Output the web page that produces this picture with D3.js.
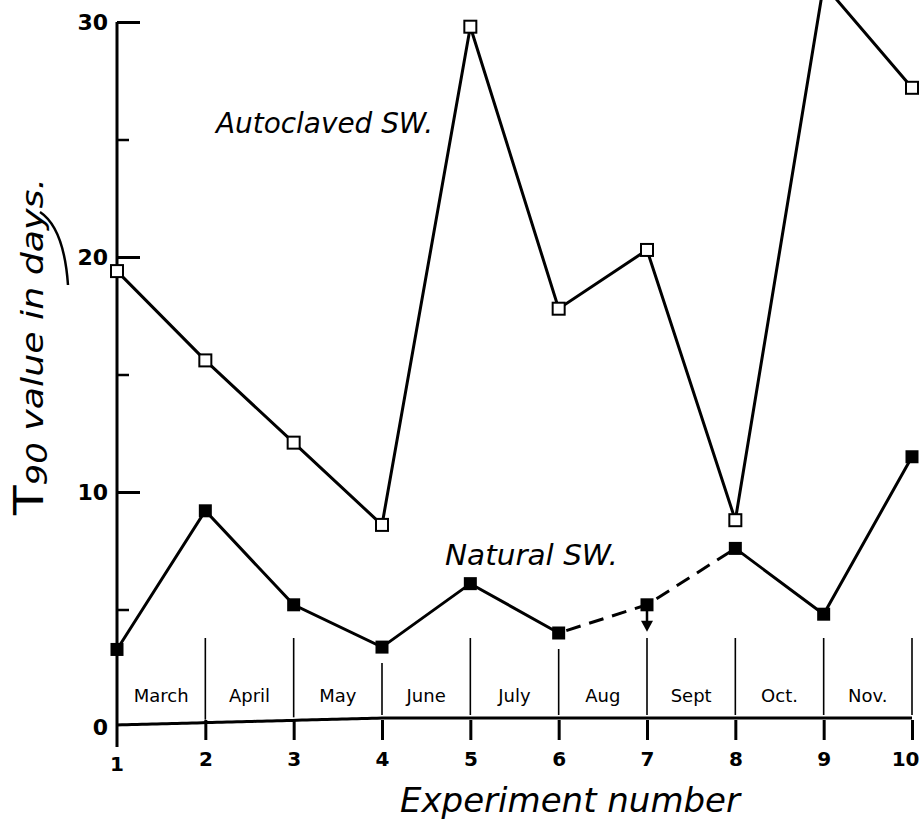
<!DOCTYPE html>
<html>
<head>
<meta charset="utf-8">
<script src="https://cdn.jsdelivr.net/npm/d3@7/dist/d3.min.js"></script>
<style>
  html, body { margin: 0; padding: 0; background: #fff; }
  svg { display: block; }
  .tick text { font-family: "DejaVu Sans", sans-serif; font-weight: bold; fill: #000; }
</style>
</head>
<body>
<div id="chart"></div>
<script>
// Experiment numbers and the month each interval covers
const experiments = [1, 2, 3, 4, 5, 6, 7, 8, 9, 10];
const months = ["March", "April", "May", "June", "July", "Aug", "Sept", "Oct.", "Nov."];

// T90 values (days) per experiment
const autoclaved = [19.4, 15.6, 12.1, 8.6, 29.8, 17.8, 20.3, 8.8, 31.6, 27.2];
const natural = [3.3, 9.2, 5.2, 3.4, 6.1, 4.0, 5.2, 7.6, 4.8, 11.5];

// Tick values
const yMajor = [0, 10, 20, 30];
const yMinor = [5, 15, 25];

const W = 921, H = 821;
const svg = d3.select("#chart").append("svg")
  .attr("width", W).attr("height", H);

const x = d3.scaleLinear().domain([1, 10]).range([117, 912]);
const y = d3.scaleLinear().domain([0, 30]).range([727, 22]);

// slight slope of the hand-drawn baseline
const axisY = xv => 725 - 7 * Math.min(1, (xv - x(1)) / (x(4) - x(1)));

// ---- y axis ----
svg.append("line")
  .attr("x1", x(1)).attr("x2", x(1))
  .attr("y1", y(30)).attr("y2", 747)
  .attr("stroke", "#000").attr("stroke-width", 3);

const yAxis = svg.append("g")
  .attr("transform", `translate(${x(1)},0)`)
  .call(d3.axisLeft(y).tickValues(yMajor).tickSize(-23).tickPadding(9).tickFormat(d3.format("d")));
yAxis.select(".domain").remove();
yAxis.selectAll(".tick line").attr("stroke", "#000").attr("stroke-width", 3);
yAxis.selectAll(".tick").filter(d => d === 0).select("line").remove();
yAxis.selectAll(".tick text").style("font-size", "22px");

const yAxisMinor = svg.append("g")
  .attr("transform", `translate(${x(1)},0)`)
  .call(d3.axisLeft(y).tickValues(yMinor).tickSize(-12).tickFormat(""));
yAxisMinor.select(".domain").remove();
yAxisMinor.selectAll(".tick line").attr("stroke", "#000").attr("stroke-width", 2.5);

// ---- x axis ----
const baseline = d3.line().x(d => d).y(d => axisY(d));
svg.append("path")
  .attr("d", baseline(d3.range(x(1), x(10) + 1, 5)))
  .attr("fill", "none").attr("stroke", "#000").attr("stroke-width", 3);

const xAxis = svg.append("g")
  .attr("transform", `translate(0,720)`)
  .call(d3.axisBottom(x).tickValues(experiments.slice(1)).tickSize(20).tickPadding(12).tickFormat(d3.format("d")));
xAxis.select(".domain").remove();
xAxis.selectAll(".tick line").attr("stroke", "#000").attr("stroke-width", 3);
xAxis.selectAll(".tick text").style("font-size", "20px");
// last label hugs the right edge
xAxis.selectAll(".tick text").filter(d => d === 10)
  .attr("text-anchor", "end").attr("x", 7);

// first experiment label sits under the y axis
svg.append("text")
  .attr("x", x(1)).attr("y", 771)
  .attr("text-anchor", "middle")
  .style("font-family", "DejaVu Sans, sans-serif").style("font-weight", "bold").style("font-size", "20px")
  .text("1");

// ---- month separators and names ----
svg.append("g").selectAll("line")
  .data(experiments.slice(1))
  .join("line")
  .attr("x1", d => x(d)).attr("x2", d => x(d))
  .attr("y1", d => Math.max(638, y(natural[d - 1]) + 16))
  .attr("y2", d => axisY(x(d)) - 3)
  .attr("stroke", "#000").attr("stroke-width", 1.6);

svg.append("g").selectAll("text")
  .data(months)
  .join("text")
  .attr("x", (d, i) => (x(experiments[i]) + x(experiments[i + 1])) / 2)
  .attr("y", 702)
  .attr("text-anchor", "middle")
  .style("font-family", "DejaVu Sans, sans-serif")
  .style("font-size", "18px")
  .style("fill", "#000")
  .text(d => d);

// ---- series ----
const line = d3.line().x((d, i) => x(experiments[i])).y(d => y(d));

svg.append("path")
  .attr("d", line(autoclaved))
  .attr("fill", "none").attr("stroke", "#000").attr("stroke-width", 3).attr("stroke-linejoin", "miter");

// natural seawater: solid except Aug–Sept interval (experiments 6 to 8)
const natPts = natural.map((v, i) => [x(experiments[i]), y(v)]);
const pl = d3.line();
svg.append("path").attr("d", pl(natPts.slice(0, 6)))
  .attr("fill", "none").attr("stroke", "#000").attr("stroke-width", 3);
svg.append("path").attr("d", pl(natPts.slice(5, 8)))
  .attr("fill", "none").attr("stroke", "#000").attr("stroke-width", 3)
  .attr("stroke-dasharray", "15,9").attr("stroke-dashoffset", -8);
svg.append("path").attr("d", pl(natPts.slice(7)))
  .attr("fill", "none").attr("stroke", "#000").attr("stroke-width", 3);

// markers
const s = 12;
svg.append("g").selectAll("rect")
  .data(autoclaved)
  .join("rect")
  .attr("x", (d, i) => x(experiments[i]) - s / 2)
  .attr("y", d => y(d) - s / 2)
  .attr("width", s).attr("height", s)
  .attr("fill", "#fff").attr("stroke", "#000").attr("stroke-width", 2);

const sf = 13;
svg.append("g").selectAll("rect")
  .data(natural)
  .join("rect")
  .attr("x", (d, i) => x(experiments[i]) - sf / 2)
  .attr("y", d => y(d) - sf / 2)
  .attr("width", sf).attr("height", sf)
  .attr("fill", "#000");

// downward arrow on experiment 7 (value is an upper bound)
const ax = x(7), ay = y(natural[6]);
svg.append("line")
  .attr("x1", ax).attr("x2", ax).attr("y1", ay + 6).attr("y2", ay + 20)
  .attr("stroke", "#000").attr("stroke-width", 2.5);
svg.append("path")
  .attr("d", `M${ax - 6},${ay + 16} L${ax + 6},${ay + 16} L${ax},${ay + 27} Z`)
  .attr("fill", "#000");

// ---- labels ----
const hand = "DejaVu Sans, sans-serif";
svg.append("text")
  .attr("x", 216).attr("y", 133)
  .attr("textLength", 217).attr("lengthAdjust", "spacingAndGlyphs")
  .style("font-family", hand).style("font-style", "italic").style("font-size", "28px")
  .text("Autoclaved SW.");

svg.append("text")
  .attr("x", 445).attr("y", 565)
  .attr("textLength", 173).attr("lengthAdjust", "spacingAndGlyphs")
  .style("font-family", hand).style("font-style", "italic").style("font-size", "28px")
  .text("Natural SW.");

svg.append("text")
  .attr("x", 400).attr("y", 812)
  .attr("textLength", 340).attr("lengthAdjust", "spacingAndGlyphs")
  .style("font-family", hand).style("font-style", "italic").style("font-size", "34px")
  .text("Experiment number");

const yl = svg.append("text")
  .attr("transform", "translate(43,515) rotate(-90)")
  .attr("textLength", 337).attr("lengthAdjust", "spacingAndGlyphs")
  .style("font-family", hand).style("font-style", "italic").style("font-size", "30px");
yl.append("tspan").style("font-size", "40px").style("font-style", "normal").text("T");
yl.append("tspan").attr("dy", 4).style("font-size", "28px").text("90");
yl.append("tspan").attr("dy", -4).text(" value in days.");

// underline flourish under "days"
svg.append("path")
  .attr("d", "M40,212 Q64,228 68,285")
  .attr("fill", "none").attr("stroke", "#000").attr("stroke-width", 2.5);
</script>
</body>
</html>
